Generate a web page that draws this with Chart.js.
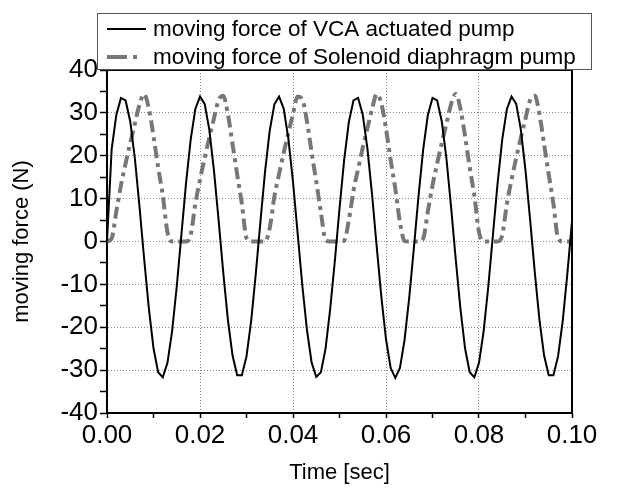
<!DOCTYPE html>
<html>
<head>
<meta charset="utf-8">
<script src="https://cdn.jsdelivr.net/npm/chart.js@4.4.1/dist/chart.umd.min.js"></script>
<style>
  html, body { margin: 0; padding: 0; background: #fff; }
</style>
</head>
<body>
<canvas id="myChart" width="617" height="491"></canvas>
<script>
// sample times in milliseconds
const timeMs = [
  0, 1, 2, 3, 4, 5, 6, 7, 8, 9,
  10, 11, 12, 13, 14, 15, 16, 17, 18, 19,
  20, 21, 22, 23, 24, 25, 26, 27, 28, 29,
  30, 31, 32, 33, 34, 35, 36, 37, 38, 39,
  40, 41, 42, 43, 44, 45, 46, 47, 48, 49,
  50, 51, 52, 53, 54, 55, 56, 57, 58, 59,
  60, 61, 62, 63, 64, 65, 66, 67, 68, 69,
  70, 71, 72, 73, 74, 75, 76, 77, 78, 79,
  80, 81, 82, 83, 84, 85, 86, 87, 88, 89,
  90, 91, 92, 93, 94, 95, 96, 97, 98, 99,
  100
];

// moving force of VCA actuated pump (N)
const vcaForce = [
  0, 21.5, 29.5, 33.5, 32.9, 28.0, 19.3, 8.0, -4.2, -15.6,
  -24.9, -30.5, -31.7, -28.3, -20.9, -10.5, 1.6, 13.6, 23.8, 30.9,
  33.8, 32.1, 26.1, 16.6, 5.0, -7.2, -18.3, -26.6, -31.2, -31.2,
  -26.8, -18.6, -7.5, 4.7, 16.4, 25.9, 32.0, 33.8, 31.0, 24.0,
  13.9, 1.9, -10.2, -20.6, -28.2, -31.6, -30.5, -25.0, -15.7, -4.5,
  7.7, 19.0, 27.8, 32.9, 33.5, 29.6, 21.7, 11.0, -1.2, -12.9,
  -22.8, -29.5, -31.8, -29.5, -22.9, -13.0, -1.5, 10.7, 21.5, 29.5,
  33.5, 32.9, 28.0, 19.3, 8.0, -4.2, -15.6, -24.9, -30.5, -31.7,
  -28.3, -20.9, -10.5, 1.6, 13.6, 23.8, 30.9, 33.8, 32.1, 26.1,
  16.6, 5.0, -7.2, -18.3, -26.6, -31.2, -31.2, -26.8, -18.6, -7.5,
  4.7
];

// moving force of Solenoid diaphragm pump (N)
const solenoidForce = [
  0, 0.7, 7.0, 13.1, 18.2, 23.0, 27.5, 32.0, 34.4, 31.0,
  24.6, 17.3, 10.7, 2.2, 0, 0, 0, 0, 1.5, 8.8,
  14.4, 19.5, 24.2, 28.7, 33.0, 34.0, 29.7, 22.7, 15.6, 8.8,
  0.8, 0, 0, 0, 0, 3.2, 10.5, 15.7, 20.7, 25.3,
  29.8, 33.8, 33.2, 28.0, 20.8, 14.0, 6.8, 0.4, 0, 0,
  0, 0.2, 4.9, 11.8, 16.9, 21.9, 26.4, 30.9, 34.4, 32.2,
  26.3, 19.0, 12.3, 4.5, 0.1, 0, 0, 0, 0.7, 7.0,
  13.1, 18.2, 23.0, 27.5, 32.0, 34.4, 31.0, 24.6, 17.3, 10.7,
  2.2, 0, 0, 0, 0, 1.5, 8.8, 14.4, 19.5, 24.2,
  28.7, 33.0, 34.0, 29.7, 22.7, 15.6, 8.8, 0.8, 0, 0,
  0
];

const seriesLabels = ['moving force of VCA actuated pump', 'moving force of Solenoid diaphragm pump'];
const xTitle = 'Time [sec]';
const yTitle = 'moving force (N)';

const FONT = '"Liberation Sans", Arial, Helvetica, sans-serif';
const GRAY = '#777777';
const GRAY_DASH = [12, 5, 4, 5];

function toPoints(vals) {
    return vals.map((v, i) => ({ x: timeMs[i] / 1000, y: v }));
}

function isMajorX(v) { return Math.round(v * 100) % 2 === 0; }
function isMajorY(v) { return Math.round(v) % 10 === 0; }

// legend box + right/top frame
const frameAndLegend = {
    id: 'frameAndLegend',
    afterDraw(chart) {
        const ctx = chart.ctx;
        const a = chart.chartArea;
        ctx.save();
        ctx.strokeStyle = '#000';
        ctx.lineWidth = 2;
        ctx.beginPath();
        ctx.moveTo(a.left, a.top);
        ctx.lineTo(a.right, a.top);
        ctx.lineTo(a.right, a.bottom);
        ctx.stroke();

        // legend
        ctx.fillStyle = '#fff';
        ctx.fillRect(97.5, 13.5, 494, 56);
        ctx.strokeStyle = '#555';
        ctx.lineWidth = 1;
        ctx.strokeRect(97.5, 13.5, 494, 56);

        const rows = [29, 57];
        ctx.font = '22.5px ' + FONT;
        ctx.textBaseline = 'middle';
        ctx.textAlign = 'left';
        // solid sample
        ctx.strokeStyle = '#000';
        ctx.lineWidth = 2;
        ctx.beginPath();
        ctx.moveTo(107, rows[0]);
        ctx.lineTo(146, rows[0]);
        ctx.stroke();
        // dash-dot sample
        ctx.strokeStyle = GRAY;
        ctx.lineWidth = 4;
        ctx.setLineDash([20, 6, 4, 6]);
        ctx.beginPath();
        ctx.moveTo(107, rows[1]);
        ctx.lineTo(141, rows[1]);
        ctx.stroke();
        ctx.setLineDash([]);

        ctx.fillStyle = '#000';
        ctx.fillText(seriesLabels[0], 153, rows[0] + 1);
        ctx.fillText(seriesLabels[1], 153, rows[1] + 1);
        ctx.restore();
    }
};

const ctx = document.getElementById('myChart').getContext('2d');
const myChart = new Chart(ctx, {
    type: 'line',
    data: {
        datasets: [{
            label: seriesLabels[0],
            data: toPoints(vcaForce),
            borderColor: '#000',
            borderWidth: 2,
            pointRadius: 0,
            tension: 0,
            fill: false
        }, {
            label: seriesLabels[1],
            data: toPoints(solenoidForce),
            borderColor: GRAY,
            borderWidth: 4,
            borderDash: GRAY_DASH,
            pointRadius: 0,
            cubicInterpolationMode: 'monotone',
            fill: false
        }]
    },
    options: {
        responsive: false,
        animation: false,
        layout: { padding: { left: 0, right: 45, top: 70, bottom: 0 } },
        plugins: {
            legend: { display: false },
            tooltip: { enabled: false }
        },
        scales: {
            x: {
                type: 'linear',
                min: 0,
                max: 0.1,
                afterFit: (s) => { s.height = 78; },
                ticks: {
                    stepSize: 0.01,
                    autoSkip: false,
                    maxRotation: 0,
                    padding: 2,
                    color: '#000',
                    font: { family: FONT, size: 26 },
                    callback: (v) => isMajorX(v) ? v.toFixed(2) : ''
                },
                grid: {
                    color: (c) => {
                        const v = c.tick ? c.tick.value : 0;
                        return (isMajorX(v) && v > 0.001 && v < 0.099) ? '#8a8a8a' : 'rgba(0,0,0,0)';
                    },
                    lineWidth: 1,
                    tickLength: 5,
                    tickColor: '#000',
                    tickWidth: 1.5
                },
                border: { color: '#000', width: 2, dash: [1, 2] },
                title: {
                    display: true,
                    text: xTitle,
                    color: '#000',
                    font: { family: FONT, size: 22 },
                    padding: { top: 0, bottom: 5 }
                }
            },
            y: {
                min: -40,
                max: 40,
                afterFit: (s) => { s.width = 107; },
                ticks: {
                    stepSize: 5,
                    autoSkip: false,
                    padding: 2,
                    color: '#000',
                    font: { family: FONT, size: 26 },
                    callback: (v) => isMajorY(v) ? String(v) : ''
                },
                grid: {
                    color: (c) => {
                        const v = c.tick ? c.tick.value : 0;
                        return (isMajorY(v) && v > -39 && v < 39) ? '#8a8a8a' : 'rgba(0,0,0,0)';
                    },
                    lineWidth: 1,
                    tickLength: 7,
                    tickColor: '#000',
                    tickWidth: 1.5
                },
                border: { color: '#000', width: 2, dash: [1, 2] },
                title: {
                    display: true,
                    text: yTitle,
                    color: '#000',
                    font: { family: FONT, size: 22 },
                    padding: { top: 9, bottom: 0 }
                }
            }
        }
    },
    plugins: [frameAndLegend]
});
</script>
</body>
</html>
